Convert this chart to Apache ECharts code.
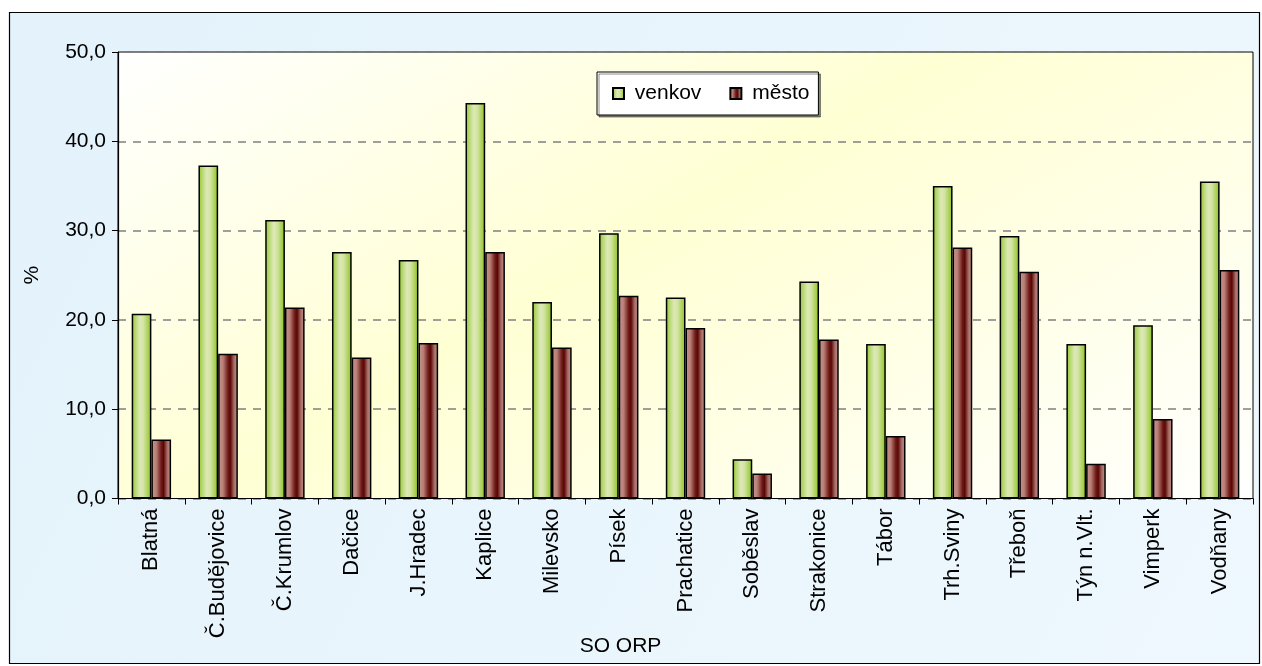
<!DOCTYPE html>
<html>
<head>
<meta charset="utf-8">
<script src="https://cdn.jsdelivr.net/npm/echarts@6/dist/echarts.min.js"></script>
<style>
html,body{margin:0;padding:0;background:#fff;}
#chart{width:1262px;height:666px;}
</style>
</head>
<body>
<div id="chart"></div>
<script>
var categories = ['Blatná','Č.Budějovice','Č.Krumlov','Dačice','J.Hradec','Kaplice','Milevsko','Písek','Prachatice','Soběslav','Strakonice','Tábor','Trh.Sviny','Třeboň','Týn n.Vlt.','Vimperk','Vodňany'];
var venkov = [20.7, 37.3, 31.2, 27.6, 26.7, 44.3, 22.0, 29.7, 22.5, 4.4, 24.3, 17.3, 35.0, 29.4, 17.3, 19.4, 35.5];
var mesto  = [6.6, 16.2, 21.4, 15.8, 17.4, 27.6, 16.9, 22.7, 19.1, 2.8, 17.8, 7.0, 28.1, 25.4, 3.9, 8.9, 25.6];
var seriesNames = ['venkov', 'město'];
var yTicks = {min: 0, max: 50, interval: 10};

var chart = echarts.init(document.getElementById('chart'));
var FONT = 'Liberation Sans, Arial, sans-serif';

var greenFill = new echarts.graphic.LinearGradient(0, 0, 1, 0, [
  {offset: 0, color: '#92c62e'},
  {offset: 0.18, color: '#b4d76c'},
  {offset: 0.42, color: '#dde9b6'},
  {offset: 0.6, color: '#d3e4a4'},
  {offset: 0.85, color: '#a6cf4e'},
  {offset: 1, color: '#8cc226'}
]);
var brownFill = new echarts.graphic.LinearGradient(0, 0, 1, 0, [
  {offset: 0, color: '#c8968e'},
  {offset: 0.25, color: '#b87e76'},
  {offset: 0.5, color: '#6e1a16'},
  {offset: 0.62, color: '#5a0606'},
  {offset: 0.8, color: '#a46a62'},
  {offset: 1, color: '#c89890'}
]);

var option = {
  backgroundColor: '#ffffff',
  animation: false,
  textStyle: {fontFamily: FONT},
  graphic: [{
    type: 'rect',
    z: -100,
    silent: true,
    shape: {x: 9.5, y: 12.5, width: 1250, height: 651},
    style: {
      fill: new echarts.graphic.LinearGradient(0, 0, 1, 1, [
        {offset: 0, color: '#e3f2fb'},
        {offset: 0.5, color: '#e9f5fc'},
        {offset: 1, color: '#eef8fe'}
      ]),
      stroke: '#000000',
      lineWidth: 1.2
    }
  }],
  grid: {
    left: 118, right: 9, top: 52, bottom: 167.5,
    containLabel: false,
    outerBoundsMode: 'none',
    show: true,
    borderColor: '#000000',
    borderWidth: 1,
    backgroundColor: new echarts.graphic.LinearGradient(0, 0, 0.433, 1.857, [
      {offset: 0, color: '#ffffff'},
      {offset: 0.44, color: '#ffffd4'},
      {offset: 1, color: '#ffffff'}
    ])
  },
  legend: {
    left: 597, top: 72,
    orient: 'horizontal',
    data: seriesNames,
    backgroundColor: '#ffffff',
    borderColor: '#000000',
    borderWidth: 1,
    padding: [11, 9, 11, 15],
    itemGap: 28,
    itemWidth: 11,
    itemHeight: 11,
    icon: 'rect',
    shadowColor: 'rgba(0,0,0,0.45)',
    shadowOffsetX: 2,
    shadowOffsetY: 2,
    shadowBlur: 0,
    formatter: function (name) { return ' ' + name; },
    textStyle: {fontFamily: FONT, fontSize: 21, color: '#000'}
  },
  xAxis: {
    type: 'category',
    data: categories,
    name: 'SO ORP',
    nameLocation: 'middle',
    nameGap: 137,
    nameMoveOverlap: false,
    nameTextStyle: {fontFamily: FONT, fontSize: 21, color: '#000', padding: [0, 130, 0, 0]},
    axisLine: {show: true, lineStyle: {color: '#000', width: 1.2}},
    axisTick: {show: true, length: 6, lineStyle: {color: '#000'}},
    axisLabel: {rotate: 90, margin: 10, fontFamily: FONT, fontSize: 22, color: '#000', interval: 0},
    splitLine: {show: false}
  },
  yAxis: {
    type: 'value',
    min: yTicks.min, max: yTicks.max, interval: yTicks.interval,
    name: '%',
    nameLocation: 'middle',
    nameRotate: 90,
    nameGap: 75,
    nameMoveOverlap: false,
    nameTextStyle: {fontFamily: FONT, fontSize: 21, color: '#000'},
    axisLine: {show: true, lineStyle: {color: '#000', width: 1.2}},
    axisTick: {show: true, length: 6, lineStyle: {color: '#000'}},
    axisLabel: {
      margin: 12, fontFamily: FONT, fontSize: 21, color: '#000',
      formatter: function (v) { return v.toFixed(1).replace('.', ','); }
    },
    splitLine: {show: true, lineStyle: {color: '#808080', width: 1.5, type: [8, 7]}}
  },
  series: [{
    name: seriesNames[0],
    type: 'bar',
    data: venkov,
    barGap: '0%',
    barCategoryGap: '41%',
    itemStyle: {color: greenFill, borderColor: '#000', borderWidth: 1.5}
  }, {
    name: seriesNames[1],
    type: 'bar',
    data: mesto,
    barGap: '0%',
    barCategoryGap: '41%',
    itemStyle: {color: brownFill, borderColor: '#000', borderWidth: 1.5}
  }]
};
chart.setOption(option);
</script>
</body>
</html>
